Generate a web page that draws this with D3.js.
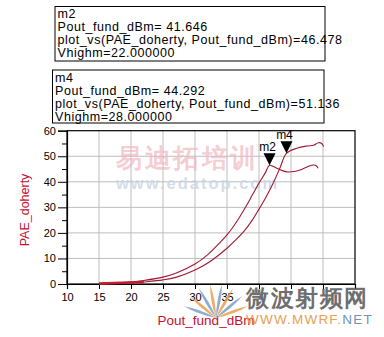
<!DOCTYPE html>
<html>
<head>
<meta charset="utf-8">
<script src="https://cdn.jsdelivr.net/npm/d3@7"></script>
<style>
  body { margin: 0; background: #fff; }
  text { font-family: "Liberation Sans", Arial, sans-serif; }
</style>
</head>
<body>
<svg width="384" height="337"></svg>
<script>
// curve through m2 (x = Pout_fund_dBm, y = PAE_doherty)
var curveA = [[15,0],[17,0.2],[20,0.8],[22,1.4],[25,2.7],[27,4.2],[30,7.8],[32,11.5],[34,16.5],[35,19.2],[36,22.5],[37,26.3],[38,30.5],[39,35],[40,39.5],[41,43.6],[41.646,46.478],
  [42.8,45.3],[44.3,43.9],[45.5,44],[46.4,44.6],[47.5,45.8],[48.5,46.6],[49,46.2],[49.2,45.3]];
// curve through m4
var curveB = [[15,0],[17,0.1],[20,0.4],[22,0.8],[25,1.6],[27,2.6],[30,5.5],[32,8.2],[35,14],[36.5,17.6],[37.8,21.1],[39,25.2],[40,29.3],[41,33.6],[41.7,36.9],[42.5,41],[43.3,45.6],[44.292,51.136],
  [45.9,53.1],[47.5,54],[48.5,54.3],[49.3,55.3],[49.8,55],[50.1,53.8]];
var markers = [
  {name:"m2", x:41.646, y:46.478},
  {name:"m4", x:44.292, y:51.136}
];
var boxLines = [
  ["m2","Pout_fund_dBm= 41.646","plot_vs(PAE_doherty, Pout_fund_dBm)=46.478","Vhighm=22.000000"],
  ["m4","Pout_fund_dBm= 44.292","plot_vs(PAE_doherty, Pout_fund_dBm)=51.136","Vhighm=28.000000"]
];
var xTicks = [10,15,20,25,30,35,40,45,50,55];
var xShown = [10,15,20,25,30,35];   // the rest sit under the watermark
var yTicks = [0,10,20,30,40,50,60];
var yMinor = [5,15,25,35,45,55];

var svg = d3.select("svg");
var x = d3.scaleLinear().domain([10,55]).range([67,355]);
var y = d3.scaleLinear().domain([0,60]).range([284,130.7]);

// grid
svg.append("g").selectAll("line").data(xTicks.slice(1,-1)).enter().append("line")
  .attr("x1", d => x(d)).attr("x2", d => x(d)).attr("y1", y(0)).attr("y2", y(60))
  .attr("stroke", "#bdbdbd").attr("stroke-width", 1);
svg.append("g").selectAll("line").data(yTicks.slice(1,-1)).enter().append("line")
  .attr("y1", d => y(d)).attr("y2", d => y(d)).attr("x1", x(10)).attr("x2", x(55))
  .attr("stroke", "#bdbdbd").attr("stroke-width", 1);

// frame
svg.append("rect").attr("x", x(10)).attr("y", y(60)).attr("width", x(55)-x(10)).attr("height", y(0)-y(60))
  .attr("fill", "none").attr("stroke", "#000").attr("stroke-width", 1.2);

// axes
var xAxis = d3.axisBottom(x).tickValues(xTicks).tickSize(5).tickPadding(4)
  .tickFormat(d => xShown.indexOf(d) >= 0 ? d : "");
var gx = svg.append("g").attr("transform", "translate(0," + y(0) + ")").call(xAxis);
var yAxis = d3.axisLeft(y).tickValues(yTicks).tickSize(9).tickPadding(2).tickFormat(d3.format("d"));
var gy = svg.append("g").attr("transform", "translate(" + x(10) + ",0)").call(yAxis);
svg.append("g").attr("transform", "translate(" + x(10) + ",0)")
  .call(d3.axisLeft(y).tickValues(yMinor).tickSize(5).tickFormat(""))
  .select(".domain").remove();
[gx, gy].forEach(function(g){
  g.select(".domain").attr("stroke", "#000").attr("stroke-width", 1.2);
  g.selectAll("text").attr("font-size", 11).attr("fill", "#000").attr("font-family", "Liberation Sans, Arial, sans-serif");
});

// watermark (top)
svg.append("text").attr("x", 116).attr("y", 167).attr("font-size", 26).attr("font-weight", "bold")
  .attr("font-family", "Noto Sans CJK SC").attr("fill", "#f0b8c0").attr("fill-opacity", 0.7).attr("letter-spacing", 2.5).text("易迪拓培训");
svg.append("text").attr("x", 116).attr("y", 189).attr("font-size", 16.5).attr("font-weight", "bold")
  .attr("fill", "#c8d4e4").attr("fill-opacity", 0.8).attr("letter-spacing", 2).text("www.edatop.com");

// curves
var line = d3.line().x(d => x(d[0])).y(d => y(d[1])).curve(d3.curveCatmullRom.alpha(0.5));
[curveA, curveB].forEach(function(c){
  svg.append("path").datum(c).attr("d", line).attr("fill", "none").attr("stroke", "#9e1a32").attr("stroke-width", 1.1);
});
svg.append("line").attr("x1", x(15)).attr("x2", x(22)).attr("y1", y(0)-0.5).attr("y2", y(0.6)-0.5)
  .attr("stroke", "#c0202c").attr("stroke-width", 2.5);

// markers
markers.forEach(function(m){
  var px = x(m.x), py = y(m.y);
  svg.append("path").attr("d", "M" + (px-6) + "," + (py-12) + "L" + (px+6) + "," + (py-12) + "L" + px + "," + py + "Z").attr("fill", "#000");
  svg.append("text").attr("x", px-2).attr("y", py-14).attr("text-anchor", "middle").attr("font-size", 12).attr("fill", "#000").text(m.name);
});

// marker boxes
var boxes = [{x:55, y:6.5, w:270, h:54.5}, {x:52.5, y:70, w:271.5, h:53}];
boxes.forEach(function(b, i){
  svg.append("rect").attr("x", b.x).attr("y", b.y).attr("width", b.w).attr("height", b.h)
    .attr("fill", "#fff").attr("stroke", "#000").attr("stroke-width", 1);
  svg.append("g").selectAll("text").data(boxLines[i]).enter().append("text")
    .attr("x", b.x + 2.5).attr("y", (d, j) => b.y + 11.5 + j * 13)
    .attr("font-size", 12.5).attr("letter-spacing", 0.55).attr("fill", "#000").text(d => d);
});

// axis titles
svg.append("text").attr("transform", "translate(29,210) rotate(-90)").attr("text-anchor", "middle")
  .attr("font-size", 12.5).attr("fill", "#c8102e").text("PAE_doherty");
svg.append("text").attr("x", 206).attr("y", 325).attr("text-anchor", "middle")
  .attr("font-size", 13.5).attr("fill", "#c8102e").text("Pout_fund_dBm");

// watermark (bottom right)
var fan = svg.append("g").attr("transform", "translate(216,318)");
var rays = [-70,-50,-30,-10,10,30,50,70];
fan.selectAll("path").data(rays).enter().append("path")
  .attr("d", "M0,0 Q-3,-18 0,-34 Q3,-18 0,0Z")
  .attr("transform", d => "rotate(" + d + ")")
  .attr("fill", (d, i) => i % 2 ? "#e8a050" : "#7aa0c8").attr("fill-opacity", 0.85);
svg.append("text").attr("x", 246).attr("y", 306).attr("font-size", 23).attr("font-weight", "bold")
  .attr("font-family", "Noto Sans CJK SC").attr("fill", "#555").attr("fill-opacity", 0.85).attr("letter-spacing", 1.5).text("微波射频网");
var wm = svg.append("text").attr("x", 246).attr("y", 324).attr("font-size", 13.5).attr("letter-spacing", 1.2);
wm.append("tspan").attr("fill", "#e8a050").text("WWW.MWRF.");
wm.append("tspan").attr("fill", "#6f93b8").text("NET");
</script>
</body>
</html>
